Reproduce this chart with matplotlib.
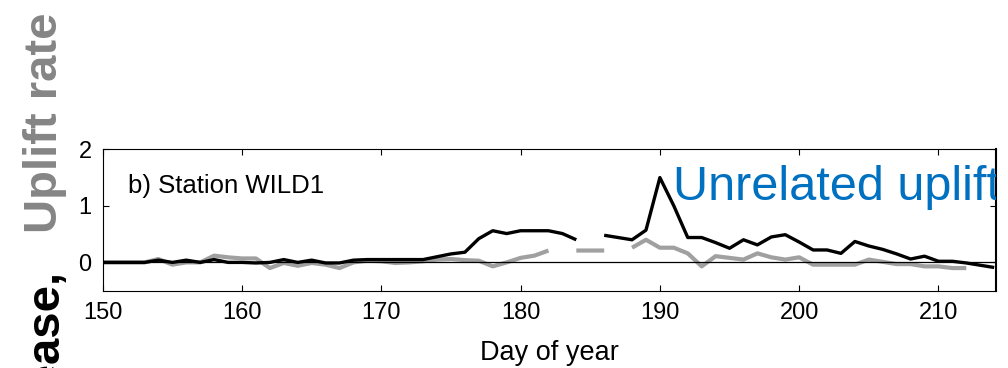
import numpy as np
import matplotlib
matplotlib.use("Agg")
import matplotlib.pyplot as plt

plt.rcParams['font.family'] = ['Liberation Sans', 'DejaVu Sans']

# Day of year and daily uplift rates at station WILD1 (NaN = no data)
dias = np.arange(150, 215)
tasa_negra = [0, 0, 0, 0, 0.04, 0, 0.04, 0, 0.05, 0,
              0, -0.01, 0, 0.05, 0, 0.04, -0.01, -0.01, 0.04, 0.05,
              0.05, 0.05, 0.05, 0.05, 0.1, 0.15, 0.18, 0.42, 0.56, 0.51,
              0.56, 0.56, 0.56, 0.51, 0.40, np.nan, 0.48, 0.44, 0.40, 0.57,
              1.5, 1.0, 0.44, 0.44, 0.35, 0.25, 0.40, 0.31, 0.45, 0.49,
              0.36, 0.22, 0.22, 0.16, 0.37, 0.29, 0.23, 0.15, 0.06, 0.11,
              0.02, 0.02, -0.01, -0.05, -0.09]
tasa_gris = [0, 0, 0, 0, 0.06, -0.04, 0, 0, 0.12, 0.09,
             0.07, 0.07, -0.1, -0.01, -0.06, -0.01, -0.04, -0.1, 0, 0.03,
             0.02, -0.01, 0, 0.02, 0.05, 0.06, 0.04, 0.03, -0.07, 0,
             0.08, 0.12, 0.21, np.nan, 0.21, 0.21, 0.21, np.nan, 0.26, 0.40,
             0.26, 0.26, 0.16, -0.07, 0.11, 0.08, 0.05, 0.16, 0.09, 0.05,
             0.09, -0.04, -0.04, -0.04, -0.04, 0.05, 0.01, -0.03, -0.03, -0.07,
             -0.07, -0.1, -0.1, np.nan, np.nan]
xticks = [150, 160, 170, 180, 190, 200, 210]
yticks = [0, 1, 2]

fig = plt.figure(figsize=(10.08, 3.68), dpi=100)
ax = fig.add_axes([0.1019, 0.2101, 0.8862, 0.3842])

ax.plot(dias, tasa_gris, color='#a0a0a0', lw=3.0, solid_capstyle='butt')
ax.plot(dias, tasa_negra, color='black', lw=2.4, solid_capstyle='butt')
ax.axhline(0, color='black', lw=0.9)

ax.set_xlim(150, 214.13)
ax.set_ylim(-0.5, 2)
ax.set_xticks(xticks)
ax.set_yticks(yticks)
ax.tick_params(direction='in', length=4, width=0.8, top=True, right=True,
               labelsize=17)
ax.tick_params(axis='x', pad=8)
ax.tick_params(axis='y', pad=8)
for s in ax.spines.values():
    s.set_linewidth(0.8)
ax.spines['right'].set_linewidth(1.5)
ax.set_xlabel('Day of year', fontsize=19.5, labelpad=12)

ax.text(0.0283, 0.689, 'b) Station WILD1', transform=ax.transAxes,
        fontsize=18.5, va='baseline', ha='left')
ax.text(0.638, 0.641, 'Unrelated uplift', transform=ax.transAxes,
        fontsize=35, color='#0070c0', va='baseline', ha='left', clip_on=True)

# etiqueta vertical del eje y (parte gris y parte negra)
fig.text(0.0442, 0.367, 'Uplift rate', rotation=90, fontsize=34,
         fontweight='bold', color='#858585', ha='center', va='bottom')
fig.text(0.0442, 0.272, 'increase,', rotation=90, fontsize=34,
         fontweight='bold', color='black', ha='center', va='top')

fig.savefig('out.png', dpi=100)
